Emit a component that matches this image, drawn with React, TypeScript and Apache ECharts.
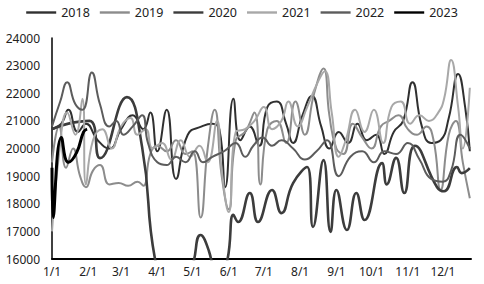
import React, { useEffect, useRef } from "react";
import * as echarts from "echarts";

const monthDays = [0, 31, 59, 90, 120, 151, 181, 212, 243, 273, 304, 334];
const monthLabels = ["1/1", "2/1", "3/1", "4/1", "5/1", "6/1", "7/1", "8/1", "9/1", "10/1", "11/1", "12/1"];

const years = ["2018", "2019", "2020", "2021", "2022", "2023"];
const colors = ["#303030", "#8c8c8c", "#3c3c3c", "#a8a8a8", "#5c5c5c", "#000000"];
const widths = [2, 2, 2.6, 2, 2, 3];

const days2018 = [0, 8, 14, 22, 29, 39, 49, 59, 69, 78, 84, 90, 98, 106, 116, 128, 137, 143, 148, 155, 161, 169, 177, 184, 192, 200, 206, 214, 222, 230, 237, 245, 253, 261, 269, 277, 284, 292, 300, 308, 316, 324, 332, 339, 347, 353, 357];
const vals2018 = [20700, 20900, 21400, 20600, 20900, 20300, 20000, 20700, 21200, 20700, 21300, 19900, 21400, 18900, 20500, 20800, 20900, 20700, 18600, 21800, 20300, 20800, 20100, 21500, 21700, 20900, 20200, 21200, 21900, 20800, 20000, 20600, 20200, 20900, 20300, 20500, 19800, 20600, 21000, 22400, 20800, 20200, 20300, 21100, 22700, 21500, 19900];

const days2019 = [0, 6, 12, 18, 24, 29, 35, 41, 49, 57, 65, 73, 78, 84, 90, 98, 106, 114, 120, 127, 133, 139, 145, 151, 157, 165, 173, 178, 184, 192, 200, 208, 216, 224, 232, 237, 243, 249, 257, 265, 273, 281, 288, 296, 304, 312, 320, 326, 332, 339, 345, 351, 357];
const vals2019 = [19500, 20800, 19300, 20000, 19000, 18600, 19200, 19400, 18700, 18750, 18650, 18800, 18650, 19800, 20100, 19900, 20300, 19800, 19900, 17500, 20000, 21400, 19000, 17800, 20300, 20600, 21300, 18700, 20700, 21000, 20200, 21700, 20500, 22000, 22900, 21200, 20000, 19800, 20900, 20400, 20000, 20800, 21000, 21200, 20700, 20500, 20800, 20300, 18500, 20500, 21000, 19500, 18200];

const days2020 = [0, 14, 32, 41, 64, 77, 88, 101, 118, 127, 134, 142, 150, 155, 159, 169, 176, 188, 196, 206, 218, 223, 232, 238, 243, 252, 260, 267, 282, 286, 294, 301, 310, 329, 335, 346, 350, 357];
const vals2020 = [20700, 20900, 21000, 19650, 21860, 20050, 16000, 14500, 15500, 16870, 16300, 15000, 16000, 17600, 17340, 18390, 17340, 18500, 17660, 18750, 19330, 17160, 19580, 16980, 18500, 17050, 18390, 17410, 19470, 18700, 19660, 18390, 20100, 18600, 18450, 19330, 19110, 19290];

const days2021 = [0, 6, 13, 20, 26, 29, 35, 43, 51, 59, 67, 73, 80, 86, 94, 102, 110, 118, 126, 133, 141, 145, 151, 157, 165, 173, 181, 188, 196, 202, 210, 218, 226, 233, 239, 245, 251, 259, 267, 275, 283, 290, 298, 306, 314, 322, 330, 335, 341, 347, 351, 357];
const vals2021 = [17000, 19800, 21300, 20500, 21800, 18700, 20300, 20700, 20000, 20800, 21100, 20500, 20700, 20000, 20200, 19600, 20300, 19700, 20100, 19500, 21000, 19200, 17700, 20600, 20700, 21000, 21500, 20700, 21000, 21700, 20800, 21500, 22300, 22800, 21300, 19700, 20300, 21400, 20600, 21400, 20200, 21500, 21700, 20900, 21200, 21000, 21300, 21800, 23200, 21500, 20000, 22200];

const days2022 = [0, 7, 13, 20, 26, 34, 41, 49, 55, 61, 69, 77, 82, 90, 98, 106, 114, 122, 129, 137, 147, 157, 165, 172, 180, 188, 196, 206, 216, 226, 235, 245, 255, 265, 275, 284, 294, 304, 314, 324, 334, 341, 349, 357];
const vals2022 = [20800, 21700, 22400, 21600, 21400, 22750, 21600, 20800, 21000, 20500, 20800, 21200, 20200, 19500, 19400, 19700, 19500, 19900, 19500, 19700, 19900, 20200, 19700, 20100, 20400, 20100, 20300, 20000, 19600, 19900, 20300, 19000, 19700, 19900, 19500, 19900, 19800, 20200, 19600, 18900, 18800, 19200, 20500, 20000];

const days2023 = [0, 1, 8, 14, 21, 27, 30];
const vals2023 = [19300, 17500, 20400, 19500, 19850, 20600, 20700];

const yTicks = [16000, 17000, 18000, 19000, 20000, 21000, 22000, 23000, 24000];

const allDays = [days2018, days2019, days2020, days2021, days2022, days2023];
const allVals = [vals2018, vals2019, vals2020, vals2021, vals2022, vals2023];

export default function App() {
  const ref = useRef<HTMLDivElement>(null);
  useEffect(() => {
    if (!ref.current) return;
    const chart = echarts.init(ref.current, null, { renderer: "svg" });
    const font = "'Noto Sans', 'Liberation Sans', sans-serif";
    chart.setOption({
      animation: false,
      backgroundColor: "#ffffff",
      legend: {
        top: 1,
        left: "center",
        itemWidth: 30,
        itemHeight: 12,
        itemGap: 10,
        icon: "path://M0,5 L30,5 L30,7.4 L0,7.4 Z",
        textStyle: { fontSize: 12.5, color: "#222", fontFamily: font },
        data: years.map((y, i) => ({ name: y, itemStyle: { color: colors[i] } })),
      },
      grid: { left: 52, right: 13, top: 38, bottom: 25, containLabel: false },
      xAxis: {
        type: "value",
        min: 0,
        max: 358,
        splitLine: { show: false },
        axisLine: { show: true, onZero: false, lineStyle: { color: "#000", width: 2 } },
        axisTick: { show: false },
        axisLabel: {
          customValues: monthDays,
          formatter: (v: number) => {
            const i = monthDays.indexOf(Math.round(v));
            return i >= 0 ? monthLabels[i] : "";
          },
          fontSize: 12,
          color: "#222",
          fontFamily: font,
          margin: 6,
        },
      },
      yAxis: {
        type: "value",
        min: yTicks[0],
        max: yTicks[yTicks.length - 1],
        interval: 1000,
        splitLine: { show: false },
        axisLine: { show: true, lineStyle: { color: "#000", width: 1.5 } },
        axisTick: { show: false },
        axisLabel: {
          fontSize: 12,
          color: "#222",
          fontFamily: font,
          margin: 12,
          formatter: (v: number) => String(v),
        },
      },
      series: years.map((y, i) => ({
        name: y,
        type: "line",
        smooth: 0.5,
        symbol: "none",
        clip: true,
        lineStyle: { color: colors[i], width: widths[i] },
        itemStyle: { color: colors[i] },
        data: allDays[i].map((d, j) => [d, allVals[i][j]]),
        z: i === 5 ? 10 : 2 + i,
      })),
    });
    return () => chart.dispose();
  }, []);
  return <div ref={ref} style={{ position: "fixed", left: 0, top: 0, width: 484, height: 284 }} />;
}
